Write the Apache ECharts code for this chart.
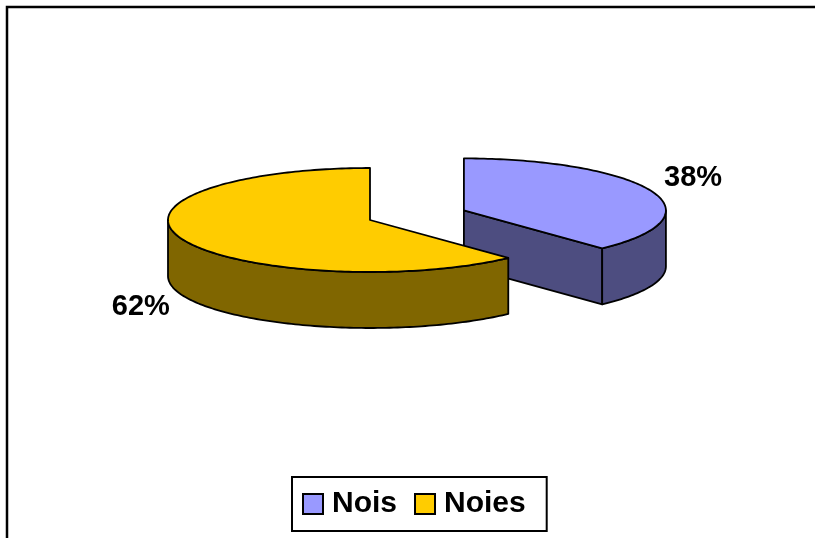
<!DOCTYPE html>
<html>
<head>
<meta charset="utf-8">
<script src="https://cdn.jsdelivr.net/npm/echarts@6/dist/echarts.min.js"></script>
<style>
  html, body { margin: 0; padding: 0; background: #fff; }
  #chart { width: 815px; height: 538px; }
</style>
</head>
<body>
<div id="chart"></div>
<script>
// data
const categories = ['Nois', 'Noies'];
const values = [38, 62];

// look
const topColors = ['#9999FF', '#FFCC00'];
const sideColors = ['#4D4D80', '#806600'];
const FONT = '"Liberation Sans", Arial, sans-serif';

// 3d pie layout (px)
const cx = 370, cy = 220, rx = 202, ry = 52, depth = 56;
const explode = [0.5, 0];
const labelDist = 1.22;
const labelNudge = [-9, 64];

const total = values.reduce((a, b) => a + b, 0);

function sliceAngles(i) {
  let before = 0;
  for (let k = 0; k < i; k++) before += values[k];
  const a1 = before / total * Math.PI * 2;
  const a2 = a1 + values[i] / total * Math.PI * 2;
  return [a1, a2];
}

function pt(ox, oy, t, z) {
  return [ox + rx * Math.sin(t), oy - ry * Math.cos(t) + (z || 0)];
}

function arc(ox, oy, from, to, z) {
  const n = Math.max(2, Math.ceil(Math.abs(to - from) / 0.02));
  const pts = [];
  for (let s = 0; s <= n; s++) {
    pts.push(pt(ox, oy, from + (to - from) * s / n, z));
  }
  return pts;
}

function buildSlice(i) {
  const [a1, a2] = sliceAngles(i);
  const mid = (a1 + a2) / 2;
  const ox = cx + explode[i] * rx * Math.sin(mid);
  const oy = cy - explode[i] * ry * Math.cos(mid);
  const line = {stroke: '#000', lineWidth: 1.8, lineJoin: 'round'};
  const children = [];

  // radial faces that face the viewer
  [[a1, -1], [a2, 1]].forEach(([t, dir]) => {
    if (dir * Math.sin(t) > 1e-6) {
      const p = pt(ox, oy, t);
      children.push({
        type: 'polygon',
        shape: {points: [[ox, oy], p, [p[0], p[1] + depth], [ox, oy + depth]]},
        style: Object.assign({fill: sideColors[i]}, line)
      });
    }
  });

  // outer wall, front half only
  const lo = Math.max(a1, Math.PI / 2);
  const hi = Math.min(a2, Math.PI * 1.5);
  if (hi > lo) {
    const pts = arc(ox, oy, lo, hi, 0).concat(arc(ox, oy, hi, lo, depth));
    children.push({
      type: 'polygon',
      shape: {points: pts},
      style: Object.assign({fill: sideColors[i]}, line)
    });
  }

  // top face
  children.push({
    type: 'polygon',
    shape: {points: [[ox, oy]].concat(arc(ox, oy, a1, a2, 0))},
    style: Object.assign({fill: topColors[i]}, line)
  });

  // percentage label
  const lp = [ox + labelDist * rx * Math.sin(mid), oy - labelDist * ry * Math.cos(mid) + labelNudge[i]];
  children.push({
    type: 'text',
    style: {
      text: Math.round(values[i] / total * 100) + '%',
      x: lp[0], y: lp[1],
      align: 'center', verticalAlign: 'middle',
      font: 'bold 29px ' + FONT,
      fill: '#000'
    }
  });

  return {type: 'group', children};
}

const chart = echarts.init(document.getElementById('chart'));

chart.setOption({
  animation: false,
  backgroundColor: '#fff',
  graphic: [{
    type: 'rect',
    shape: {x: 7, y: 7, width: 900, height: 600},
    style: {fill: 'none', stroke: '#000', lineWidth: 2.5},
    silent: true
  }],
  legend: {
    left: 292,
    top: 477,
    padding: [12, 21, 12, 10],
    itemGap: 17,
    itemWidth: 20,
    itemHeight: 20,
    icon: 'rect',
    borderColor: '#000',
    borderWidth: 2,
    itemStyle: {borderColor: '#000', borderWidth: 2},
    textStyle: {fontSize: 30, fontWeight: 'bold', fontFamily: FONT, color: '#000', padding: [0, 0, 0, 4]},
    data: categories
  },
  series: categories.map((name, i) => ({
    type: 'custom',
    name,
    coordinateSystem: 'none',
    z: 2 + i,
    itemStyle: {color: topColors[i]},
    data: [values[i]],
    renderItem: () => buildSlice(i)
  }))
});
</script>
</body>
</html>
